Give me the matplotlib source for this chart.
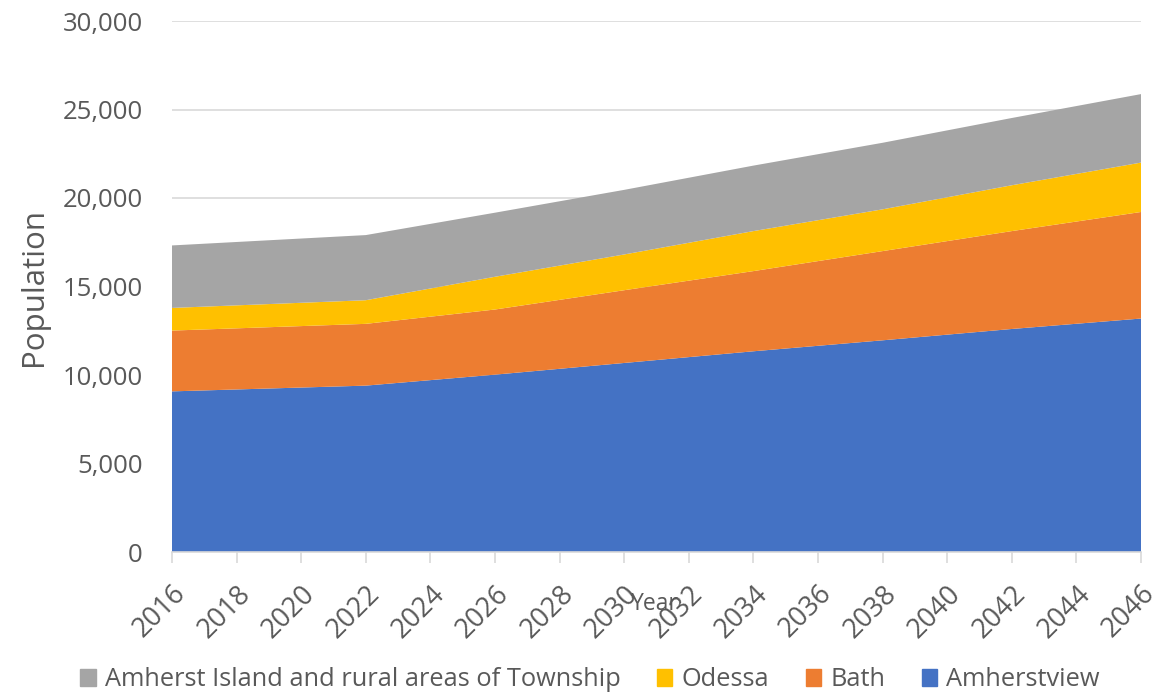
import matplotlib
matplotlib.use("Agg")
import matplotlib.pyplot as plt
from matplotlib.ticker import FuncFormatter, MultipleLocator
from matplotlib.patches import Patch

years = [2016, 2022, 2026, 2030, 2034, 2038, 2042, 2046]
amherstview = [9075, 9400, 10020, 10680, 11340, 11960, 12600, 13190]
bath = [3435, 3490, 3680, 4110, 4530, 5040, 5530, 6020]
odessa = [1280, 1335, 1850, 2020, 2260, 2360, 2590, 2790]
rural = [3530, 3680, 3620, 3650, 3700, 3760, 3800, 3870]

labels = ["Amherstview", "Bath", "Odessa", "Amherst Island and rural areas of Township"]
colors = ["#4472C4", "#ED7D31", "#FFC000", "#A5A5A5"]
tick_years = list(range(2016, 2047, 2))

text_color = "#595959"
grid_color = "#D9D9D9"
plt.rcParams['font.family'] = ['Open Sans', 'DejaVu Sans']

fig = plt.figure(figsize=(11.64, 6.95), dpi=100)
ax = fig.add_axes([172/1164, 1-552/695, (1141-172)/1164, (552-21)/695])

ax.stackplot(years, amherstview, bath, odessa, rural, colors=colors, labels=labels,
             linewidth=0, zorder=2)

ax.set_xlim(2016, 2046)
ax.set_ylim(0, 30000)
ax.yaxis.set_major_locator(MultipleLocator(5000))
ax.yaxis.set_major_formatter(FuncFormatter(lambda v, p: f"{int(v):,}"))
ax.set_xticks(tick_years)
ax.set_xticklabels([str(y) for y in tick_years], rotation=45, ha='right',
                   rotation_mode='anchor', fontsize=19.5, color=text_color)
ax.tick_params(axis='x', length=8, color=grid_color, width=1.2, pad=12)
ax.tick_params(axis='y', length=0, labelsize=18.5, labelcolor=text_color, pad=21)

ax.grid(axis='y', color=grid_color, linewidth=1.2, zorder=0)
ax.set_axisbelow(True)
for s in ['top', 'right', 'left']:
    ax.spines[s].set_visible(False)
ax.spines['bottom'].set_color(grid_color)
ax.spines['bottom'].set_linewidth(1.2)

ax.set_ylabel("Population", fontsize=22.5, color=text_color, labelpad=10)
fig.text(655/1164, 1-604/695, "Year", fontsize=16.5, color=text_color,
         ha='center', va='center')

handles = [Patch(color=colors[3]), Patch(color=colors[2]), Patch(color=colors[1]), Patch(color=colors[0])]
leg_labels = [labels[3], labels[2], labels[1], labels[0]]
leg = fig.legend(handles, leg_labels, loc='center', bbox_to_anchor=(590/1164, 1-680/695),
                 ncol=4, frameon=False, fontsize=18.3, handlelength=0.6, handleheight=0.6,
                 handletextpad=0.35, columnspacing=1.45)
for t in leg.get_texts():
    t.set_color(text_color)

fig.savefig("out.png", dpi=100)
